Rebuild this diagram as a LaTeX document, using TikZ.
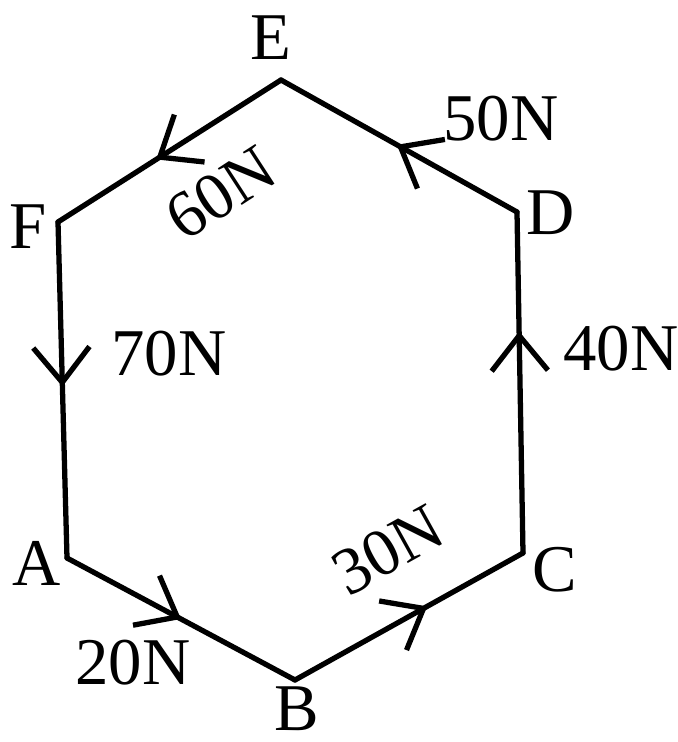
\documentclass[tikz,border=0pt]{standalone}
\usepackage{fontspec}
\setmainfont{Liberation Serif}
\usepackage{tikz}
\usetikzlibrary{arrows.meta,decorations.markings}

\tikzset{
  side/.style={line width=1.5pt,line cap=round,postaction={decorate},
    decoration={markings,mark=at position #1 with {\arrow[line width=1.5pt]{Straight Barb[length=10pt,width=16pt]}}}},
  side/.default=0.5,
  lbl/.style={font=\fontsize{19}{22}\selectfont,inner sep=0pt}
}

\begin{document}
\begin{tikzpicture}
  \useasboundingbox (0,0) rectangle (6.77,-7.42);
  % hexagon corners
  \coordinate (E) at (2.81,-0.80);
  \coordinate (D) at (5.17,-2.12);
  \coordinate (C) at (5.23,-5.53);
  \coordinate (B) at (2.95,-6.80);
  \coordinate (A) at (0.67,-5.58);
  \coordinate (F) at (0.58,-2.22);
  % sides with force directions
  \draw[side=0.5]  (A) -- (B);
  \draw[side=0.58] (B) -- (C);
  \draw[side=0.65] (C) -- (D);
  \draw[side=0.51] (D) -- (E);
  \draw[side=0.56] (E) -- (F);
  \draw[side=0.49] (F) -- (A);
  % corner letters
  \node[lbl] (labE) at (2.71,-0.38) {E};
  \node[lbl] (labD) at (5.51,-2.13) {D};
  \node[lbl] (labC) at (5.55,-5.70) {C};
  \node[lbl] (labB) at (2.97,-7.09) {B};
  \node[lbl] (labA) at (0.37,-5.63) {A};
  \node[lbl] (labF) at (0.28,-2.27) {F};
  % force magnitudes
  \node[lbl] (f20) at (1.33,-6.63) {20N};
  \node[lbl,rotate=29] (f30) at (3.88,-5.50) {30N};
  \node[lbl] (f40) at (6.21,-3.49) {40N};
  \node[lbl] (f50) at (5.01,-1.19) {50N};
  \node[lbl,rotate=33] (f60) at (2.21,-1.93) {60N};
  \node[lbl] (f70) at (1.69,-3.54) {70N};
\end{tikzpicture}
\end{document}
